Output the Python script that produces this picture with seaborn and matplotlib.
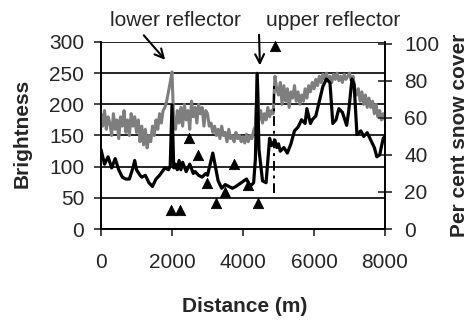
import numpy as np
import pandas as pd
import seaborn as sns
import matplotlib.pyplot as plt

# brightness profile (grey line), one value every 50 m
grey_distance = np.arange(0, 8001, 50)
brightness = [
    185, 165, 190, 160, 180, 170, 150, 185, 160, 175, 145, 180, 165, 190, 155, 175, 150, 185, 165, 180,
    155, 175, 140, 165, 135, 160, 130, 150, 140, 165, 150, 175, 160, 185, 170, 190, 195, 205, 220, 235,
    252, 170, 160, 190, 170, 195, 165, 200, 175, 190, 160, 205, 180, 195, 170, 200, 185, 195, 165, 190,
    185, 165, 170, 155, 165, 150, 160, 145, 165, 150, 155, 140, 160, 145, 150, 140, 155, 145, 150, 140,
    148, 138, 152, 140, 150, 145, 158, 165, 250, 175, 190, 170, 185, 175, 195, 180, 190, 185, 245, 225,
    215, 235, 200, 230, 205, 225, 195, 220, 210, 230, 205, 220, 200, 215, 205, 225, 210, 230, 220, 235,
    225, 240, 230, 245, 235, 248, 240, 250, 238, 245, 235, 248, 240, 250, 238, 245, 235, 248, 240, 245,
    250, 238, 245, 225, 215, 225, 205, 220, 200, 215, 195, 210, 195, 205, 185, 200, 180, 190, 175, 185,
    175,
]

# per cent snow cover (black line)
snow_distance = [0, 100, 200, 300, 400, 500, 600, 700, 800, 900, 950, 1000, 1100, 1150, 1250, 1350,
                 1450, 1550, 1650, 1800, 1900, 1950, 2000, 2050, 2100, 2150, 2200, 2250, 2300, 2400,
                 2500, 2600, 2650, 2750, 2850, 2950, 3000, 3150, 3300, 3400, 3500, 3600, 3700, 3800,
                 3950, 4100, 4200, 4300, 4350, 4400, 4450, 4550, 4650, 4750, 4800, 4900, 4950, 5000,
                 5050, 5150, 5250, 5350, 5450, 5550, 5650, 5750, 5800, 5900, 5950, 6050, 6150, 6250,
                 6350, 6450, 6530, 6620, 6700, 6800, 6920, 6980, 7070, 7130, 7210, 7320, 7400, 7500,
                 7600, 7700, 7770, 7850, 7950, 8000]
snow_cover = [43, 35, 39, 33, 38, 32, 28, 27, 27, 33, 37, 32, 29, 28, 29, 25,
              23, 27, 29, 33, 32, 34, 67, 33, 35, 32, 37, 32, 36, 31,
              35, 30, 31, 29, 28, 30, 29, 41, 26, 22, 24, 23, 22, 23,
              25, 27, 23, 25, 38, 84, 43, 26, 25, 49, 45, 48, 44, 46,
              42, 44, 41, 46, 53, 55, 59, 57, 65, 57, 59, 61, 69, 77,
              81, 79, 57, 59, 65, 63, 56, 64, 81, 78, 51, 53, 50, 52,
              48, 44, 39, 40, 49, 50]

# triangles
tri_distance = [1970, 2220, 2480, 2730, 2990, 3240, 3490, 3750, 4150, 4420, 4900]
tri_cover = [10, 10, 49, 40, 25, 14, 20, 35, 24, 14, 99]

# dash-dot marker line
dash_x = 4870
dash_range = (58, 234)

grey_df = pd.DataFrame({'Distance': grey_distance, 'Brightness': brightness})
snow_df = pd.DataFrame({'Distance': snow_distance, 'Cover': snow_cover})
tri_df = pd.DataFrame({'Distance': tri_distance, 'Cover': tri_cover})

sns.set_theme(style='white')
plt.rcParams['font.family'] = ['Liberation Sans', 'DejaVu Sans']
plt.rcParams['font.size'] = 15

fig = plt.figure(figsize=(4.71, 3.23), dpi=100)
ax = fig.add_axes([0.2144, 0.291, 0.603, 0.579])
ax2 = ax.twinx()

sns.lineplot(data=grey_df, x='Distance', y='Brightness', color='#7e7e7e', lw=2.2,
             estimator=None, ax=ax, zorder=3)
sns.lineplot(data=snow_df, x='Distance', y='Cover', color='black', lw=2.3,
             estimator=None, ax=ax2, zorder=3)
sns.scatterplot(data=tri_df, x='Distance', y='Cover', marker='^', s=55, color='black',
                edgecolor='black', ax=ax2, zorder=4, clip_on=False)
ax.vlines(dash_x, *dash_range, colors='black', lw=1.4, linestyles=(0, (5, 2.5, 1.5, 2.5)), zorder=4)

ax.set_xlim(0, 8000)
ax.set_ylim(0, 300)
ax2.set_ylim(0, 101)
ax.set_xticks(range(0, 8001, 2000))
ax.set_yticks(range(0, 301, 50))
ax2.set_yticks(range(0, 101, 20))
ax.yaxis.grid(True, color='black', lw=1.2)
ax.set_axisbelow(True)

for a in (ax, ax2):
    for s in a.spines.values():
        s.set_color('black')
        s.set_linewidth(1.2)
ax.spines['top'].set_visible(False)
ax2.spines['top'].set_visible(False)

ax.tick_params(axis='x', direction='out', length=5, width=1.2, pad=12, labelsize=15, bottom=True)
ax.tick_params(axis='y', direction='out', length=5, width=1.2, pad=7, labelsize=15, left=True)
ax2.tick_params(axis='y', direction='inout', length=10, width=1.2, pad=9, labelsize=15, right=True)

ax.set_xlabel('Distance (m)', fontsize=15, fontweight='bold', va='center')
ax.xaxis.set_label_coords(0.507, -0.417)
ax.set_ylabel('Brightness', fontsize=15, fontweight='bold', va='center')
ax.yaxis.set_label_coords(-0.278, 0.51)
ax2.set_ylabel('Per cent snow cover', fontsize=15, fontweight='bold', va='center', rotation=90)
ax2.yaxis.set_label_coords(1.264, 0.5)

arrow = dict(arrowstyle='->', color='black', lw=1.5, mutation_scale=16)
ax.annotate('', xy=(1860, 268), xytext=(1155, 314), arrowprops=arrow, annotation_clip=False)
ax.annotate('', xy=(4479, 258), xytext=(4450, 316), arrowprops=arrow, annotation_clip=False)
ax.text(2110, 335, 'lower reflector', ha='center', va='center', fontsize=15)
ax.text(6535, 335, 'upper reflector', ha='center', va='center', fontsize=15)

fig.savefig('out.png', dpi=100)
